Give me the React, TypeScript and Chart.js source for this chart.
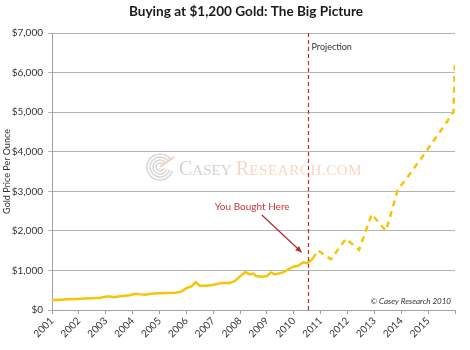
import React, { useEffect, useRef } from 'react';
import { Chart, registerables } from 'chart.js';

Chart.register(...registerables);

// ---- data ----
const histYears = [2001.0, 2001.3, 2001.6, 2001.9, 2002.2, 2002.5, 2002.8, 2003.1, 2003.3, 2003.6, 2003.9, 2004.1, 2004.3, 2004.45, 2004.7, 2005.0, 2005.3, 2005.6, 2005.8, 2006.0, 2006.2, 2006.35, 2006.5, 2006.7, 2007.0, 2007.3, 2007.6, 2007.8, 2008.0, 2008.2, 2008.35, 2008.5, 2008.6, 2008.8, 2009.0, 2009.15, 2009.3, 2009.6, 2009.8, 2010.0, 2010.15, 2010.35, 2010.5, 2010.7];
const histPrices = [255, 262, 270, 278, 290, 300, 310, 350, 325, 355, 375, 410, 395, 385, 410, 425, 430, 435, 460, 550, 600, 700, 615, 610, 630, 680, 680, 730, 850, 960, 900, 920, 860, 840, 860, 950, 900, 950, 1030, 1100, 1110, 1205, 1185, 1290];
const projYears = [2010.7, 2010.9, 2011.38, 2011.94, 2012.43, 2012.9, 2013.43, 2013.87, 2014.3, 2014.7, 2015.0, 2015.5, 2015.94, 2016.0];
const projPrices = [1290, 1510, 1280, 1800, 1520, 2420, 2000, 3040, 3420, 3790, 4080, 4560, 5000, 6250];
const yTickValues = [0, 1000, 2000, 3000, 4000, 5000, 6000, 7000];
const xTickLabels = ['2001', '2002', '2003', '2004', '2005', '2006', '2007', '2008', '2009', '2010', '2011', '2012', '2013', '2014', '2015'];

const TITLE = 'Buying at $1,200 Gold: The Big Picture';
const Y_TITLE = 'Gold Price Per Ounce';
const PROJECTION_LABEL = 'Projection';
const BOUGHT_LABEL = 'You Bought Here';
const COPYRIGHT = '\u00A9 Casey Research 2010';
const PURCHASE_YEAR = 2010.54;
const ARROW_FROM = { x: 2008.81, y: 2400 };
const ARROW_TO = { x: 2010.29, y: 1460 };
const BOUGHT_TEXT_AT = { x: 2008.45, y: 2620 };

const FONT = 'Lato, "Open Sans", sans-serif';
const GOLD = '#f6c409';

const overlayPlugin = {
  id: 'overlay',
  beforeDatasetsDraw(chart: any) {
    const { ctx } = chart;
    ctx.save();
    // watermark logo
    const cx = 160, cy = 167;
    ctx.strokeStyle = '#d8d8d8';
    ctx.lineWidth = 1.6;
    for (let r = 4; r <= 13; r += 3) {
      ctx.beginPath();
      ctx.arc(cx, cy, r, 0.3, Math.PI * 2 - 0.6);
      ctx.stroke();
    }
    ctx.strokeStyle = '#f6cdb4';
    ctx.lineWidth = 2;
    ctx.beginPath();
    ctx.moveTo(cx, cy);
    ctx.lineTo(cx + 14, cy - 10);
    ctx.stroke();
    // watermark text
    ctx.textBaseline = 'alphabetic';
    ctx.textAlign = 'left';
    let x = 179;
    const base = 175;
    const big = '20px "Liberation Serif", serif';
    const small = '15px "Liberation Serif", serif';
    ctx.fillStyle = '#d2d2d2';
    ctx.font = big; ctx.fillText('C', x, base); x += ctx.measureText('C').width;
    ctx.font = small; ctx.fillText('ASEY', x, base); x += ctx.measureText('ASEY').width;
    x = 236;
    ctx.fillStyle = '#f9d7c3';
    ctx.font = big; ctx.fillText('R', x, base); x += ctx.measureText('R').width;
    ctx.font = small;
    try { (ctx as any).letterSpacing = '0.6px'; } catch (e) { /* ignore */ }
    ctx.fillText('ESEARCH.COM', x, base);
    try { (ctx as any).letterSpacing = '0px'; } catch (e) { /* ignore */ }
    ctx.restore();
  },
  afterDraw(chart: any) {
    const { ctx, chartArea, scales } = chart;
    const xs = scales.x, ys = scales.y;
    ctx.save();
    // title
    ctx.fillStyle = '#1a1a1a';
    ctx.font = 'bold 13.6px ' + FONT;
    ctx.textAlign = 'center';
    ctx.textBaseline = 'middle';
    ctx.fillText(TITLE, 246, 12);
    // projection line
    const px = Math.round(xs.getPixelForValue(PURCHASE_YEAR)) + 0.5;
    ctx.strokeStyle = '#d0282c';
    ctx.lineWidth = 1.2;
    ctx.setLineDash([4, 3]);
    ctx.beginPath();
    ctx.moveTo(px, chartArea.top);
    ctx.lineTo(px, chartArea.bottom);
    ctx.stroke();
    ctx.setLineDash([]);
    // projection label
    ctx.fillStyle = '#333';
    ctx.font = '9px ' + FONT;
    ctx.textAlign = 'left';
    ctx.textBaseline = 'middle';
    ctx.fillText(PROJECTION_LABEL, px + 3, 47);
    // arrow
    const ax1 = xs.getPixelForValue(ARROW_FROM.x), ay1 = ys.getPixelForValue(ARROW_FROM.y);
    const ax2 = xs.getPixelForValue(ARROW_TO.x), ay2 = ys.getPixelForValue(ARROW_TO.y);
    ctx.strokeStyle = '#b02a2e';
    ctx.fillStyle = '#b02a2e';
    ctx.lineWidth = 1.2;
    ctx.beginPath();
    ctx.moveTo(ax1, ay1);
    ctx.lineTo(ax2, ay2);
    ctx.stroke();
    const ang = Math.atan2(ay2 - ay1, ax2 - ax1);
    const hl = 6, hw = 3;
    ctx.beginPath();
    ctx.moveTo(ax2, ay2);
    ctx.lineTo(ax2 - hl * Math.cos(ang) + hw * Math.sin(ang), ay2 - hl * Math.sin(ang) - hw * Math.cos(ang));
    ctx.lineTo(ax2 - hl * Math.cos(ang) - hw * Math.sin(ang), ay2 - hl * Math.sin(ang) + hw * Math.cos(ang));
    ctx.closePath();
    ctx.fill();
    // bought label
    ctx.fillStyle = '#c8373a';
    ctx.font = '10px ' + FONT;
    ctx.textAlign = 'center';
    ctx.fillText(BOUGHT_LABEL, xs.getPixelForValue(BOUGHT_TEXT_AT.x), ys.getPixelForValue(BOUGHT_TEXT_AT.y));
    // copyright
    ctx.fillStyle = '#333';
    ctx.font = 'italic 8px ' + FONT;
    ctx.textAlign = 'right';
    ctx.fillText(COPYRIGHT, chartArea.right - 4, chartArea.bottom - 9);
    ctx.restore();
  },
};

export default function App() {
  const ref = useRef<HTMLCanvasElement | null>(null);
  useEffect(() => {
    if (!ref.current) return;
    const chart = new Chart(ref.current, {
      type: 'line',
      data: {
        datasets: [
          {
            label: 'Gold',
            data: histYears.map((x, i) => ({ x, y: histPrices[i] })),
            borderColor: GOLD,
            borderWidth: 2.5,
            pointRadius: 0,
            tension: 0,
          },
          {
            label: 'Projection',
            data: projYears.map((x, i) => ({ x, y: projPrices[i] })),
            borderColor: GOLD,
            borderWidth: 2.5,
            borderDash: [6, 5],
            pointRadius: 0,
            tension: 0,
          },
        ],
      },
      options: {
        animation: false,
        responsive: false,
        layout: { padding: { top: 33, right: 15, left: 2, bottom: 0 } },
        plugins: { legend: { display: false }, tooltip: { enabled: false }, title: { display: false } },
        scales: {
          x: {
            type: 'linear',
            min: 2001,
            max: 2016,
            afterFit: (s: any) => { s.height = 40; },
            afterBuildTicks: (s: any) => {
              s.ticks = [...xTickLabels.map((l) => ({ value: Number(l) })), { value: 2016 }];
            },
            ticks: {
              autoSkip: false,
              maxRotation: 45,
              minRotation: 45,
              padding: 1,
              color: '#333',
              font: { family: FONT, size: 10 },
              callback: (v: any) => (xTickLabels.includes(String(v)) ? String(v) : ''),
            },
            grid: { drawOnChartArea: false, tickLength: 4, color: '#a0a0a0' },
            border: { color: '#a0a0a0' },
          },
          y: {
            min: 0,
            max: 7000,
            afterFit: (s: any) => { s.width = 50; },
            afterBuildTicks: (s: any) => {
              s.ticks = yTickValues.map((v) => ({ value: v }));
            },
            ticks: {
              padding: 5,
              color: '#333',
              font: { family: FONT, size: 10 },
              callback: (v: any) => '$' + Number(v).toLocaleString('en-US'),
            },
            grid: { color: '#b4b4b4', tickLength: 4, lineWidth: 1 },
            border: { color: '#a0a0a0' },
            title: {
              display: true,
              text: Y_TITLE,
              color: '#333',
              font: { family: FONT, size: 9 },
              padding: { top: 0, bottom: 0 },
            },
          },
        },
      },
      plugins: [overlayPlugin],
    });
    return () => chart.destroy();
  }, []);
  return (
    <div style={{ position: 'absolute', left: 0, top: 0, width: 470, height: 350, background: '#fff' }}>
      <canvas ref={ref} width={470} height={350} />
    </div>
  );
}
